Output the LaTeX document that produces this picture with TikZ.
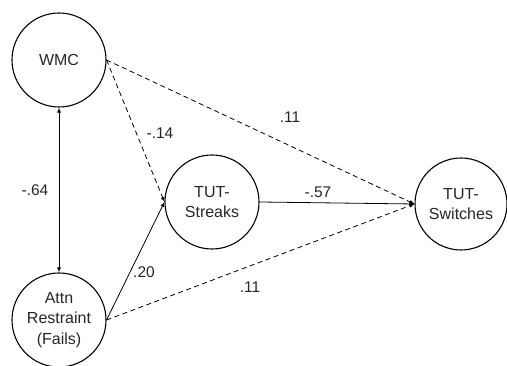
\documentclass[tikz,border=0pt]{standalone}
\usepackage{fontspec}
\setmainfont{Liberation Sans}
\usetikzlibrary{arrows.meta}
\begin{document}
\begin{tikzpicture}[x=1pt,y=1pt,
  latent/.style={circle,draw,line width=1.1pt,minimum size=94pt,inner sep=0pt,
    align=center,text=black!85,font=\fontsize{16}{20.5}\selectfont},
  path/.style={line width=0.8pt,-{Latex[length=5pt,width=4pt]}},
  dashline/.style={dash pattern=on 5pt off 3.5pt},
  coef/.style={text=black!85,font=\fontsize{15.5}{18}\selectfont}]
\useasboundingbox (0,0) rectangle (507,366);
% latent variables
\node[latent] (wmc) at (59,306) {WMC};
\node[latent] (attn) at (59,46) {Attn\\Restraint\\(Fails)};
\node[latent] (streaks) at (212,164) {TUT-\\Streaks};
\node[latent,minimum size=92pt] (switches) at (461,162) {TUT-\\Switches};
% paths
\draw[line width=0.8pt,{Latex[length=5pt,width=4pt]}-{Latex[length=5pt,width=4pt]}] (wmc.south) -- (attn.north);
\draw[path,dashline] (wmc.east) -- (streaks.west);
\draw[path,dashline] (wmc.east) -- (switches.west);
\draw[path] (attn.east) -- (streaks.west);
\draw[path,dashline] (attn.east) -- (switches.west);
\draw[path] (streaks.east) -- (switches.west);
% coefficients
\node[coef] (c1) at (35,176) {-.64};
\node[coef] (c2) at (160,233) {-.14};
\node[coef] (c3) at (290,249) {.11};
\node[coef] (c4) at (318,174) {-.57};
\node[coef] (c5) at (144,94) {.20};
\node[coef] (c6) at (250,79) {.11};
\end{tikzpicture}
\end{document}
